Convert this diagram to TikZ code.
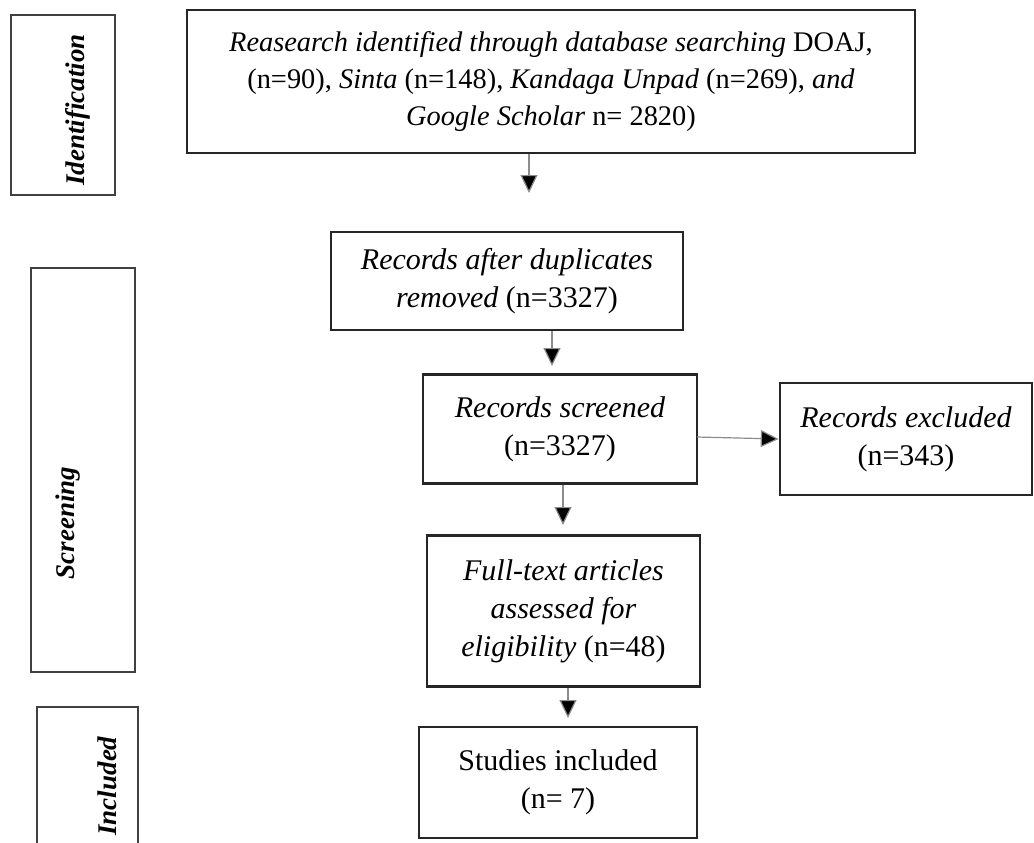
\documentclass[tikz,border=0pt]{standalone}
\usepackage{fontspec}
\setmainfont{Liberation Serif}
\usetikzlibrary{arrows.meta}

\tikzset{
  mainbox/.style={draw=black!85, line width=1.3pt, align=center, inner sep=2pt},
  sidebox/.style={draw=black!75, line width=0.8pt},
  sidelabel/.style={rotate=90, font=\fontsize{13.5}{16}\selectfont\bfseries\itshape},
  flow/.style={draw=black!45, line width=0.6pt, -{Triangle[length=9pt, width=8.5pt, fill=black]}}
}

\begin{document}
\begin{tikzpicture}[x=0.5pt, y=-0.5pt, font=\fontsize{15}{19}\selectfont]
  % cornice = dimensioni dell'immagine di riferimento (1 unita = 1 pixel)
  \useasboundingbox (0,0) rectangle (1034,842);

  % colonna sinistra: fasi
  \node[sidebox, minimum width=52pt, minimum height=90pt] (fase1) at (63,105) {};
  \node[sidelabel] (fase1t) at (78,110) {Identification};
  \node[sidebox, minimum width=52pt, minimum height=202pt] (fase2) at (83,470) {};
  \node[sidelabel] (fase2t) at (68,523) {Screening};
  \node[sidebox, minimum width=50.5pt, minimum height=80pt] (fase3) at (87.5,787) {};
  \node[sidelabel] (fase3t) at (107,786) {Included};

  % blocchi del diagramma
  \node[mainbox, minimum width=364pt, minimum height=71.5pt, font=\fontsize{14.2}{18.5}\selectfont] (ident) at (551,81.5)
    {\itshape Reasearch identified through database searching \upshape DOAJ,\\
     (n=90), \itshape Sinta \upshape (n=148), \itshape Kandaga Unpad \upshape (n=269), \itshape and\\
     \itshape Google Scholar \upshape n= 2820)};
  \node[mainbox, minimum width=176pt, minimum height=49pt] (dup) at (507,281)
    {\itshape Records after duplicates\\ \itshape removed \upshape (n=3327)};
  \node[mainbox, minimum width=137pt, minimum height=54.5pt] (screen) at (560,429)
    {\itshape Records screened\\ (n=3327)};
  \node[mainbox, minimum width=126pt, minimum height=56pt] (excl) at (906,439)
    {\itshape Records excluded\\ (n=343)};
  \node[mainbox, minimum width=136.5pt, minimum height=75.5pt] (full) at (563.5,611)
    {\itshape Full-text articles\\ \itshape assessed for\\ \itshape eligibility \upshape (n=48)};
  \node[mainbox, minimum width=139pt, minimum height=55.5pt] (incl) at (558,782.5)
    {Studies included\\ (n= 7)};

  % frecce (punta libera = coordinata)
  \coordinate (f1) at (529,193);
  \coordinate (f2) at (552,366);
  \coordinate (f3) at (563,525);
  \coordinate (f4) at (568,718);
  \coordinate (f5) at (697,437);
  \draw[flow] (ident.south -| f1) -- (f1);
  \draw[flow] (dup.south -| f2) -- (f2);
  \draw[flow] (screen.south -| f3) -- (f3);
  \draw[flow] (full.south -| f4) -- (f4);
  \draw[flow] (f5) -- (excl.west);
\end{tikzpicture}
\end{document}
